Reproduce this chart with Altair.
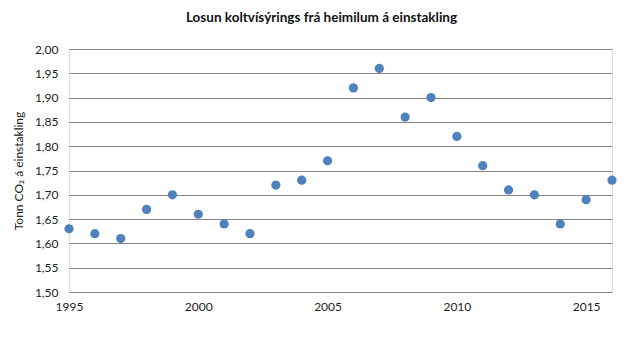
import altair as alt
import pandas as pd

years = list(range(1995, 2017))
values = [1.63, 1.62, 1.61, 1.67, 1.70, 1.66, 1.64, 1.62, 1.72, 1.73, 1.77,
          1.92, 1.96, 1.86, 1.90, 1.82, 1.76, 1.71, 1.70, 1.64, 1.69, 1.73]
y_ticks = [1.50, 1.55, 1.60, 1.65, 1.70, 1.75, 1.80, 1.85, 1.90, 1.95, 2.00]
x_ticks = [1995, 2000, 2005, 2010, 2015]

df = pd.DataFrame({"year": years, "value": values})

FONT = "Lato"

chart = alt.Chart(df).mark_circle(size=85, opacity=1, color="#4F81BD").encode(
    x=alt.X("year:Q",
            scale=alt.Scale(domain=[1995, 2016], nice=False, zero=False),
            axis=alt.Axis(values=x_ticks, format="d", grid=False, domain=False,
                          ticks=False, labelPadding=9, labelFontSize=12,
                          labelColor="#222222", labelFont=FONT, title=None,
                          labelFlush=False)),
    y=alt.Y("value:Q",
            scale=alt.Scale(domain=[1.5, 2.0], nice=False, zero=False),
            axis=alt.Axis(values=y_ticks,
                          labelExpr="replace(format(datum.value, '.2f'), '.', ',')",
                          grid=True, gridColor="#868686", gridWidth=1,
                          domain=False, ticks=False, labelPadding=11,
                          labelFontSize=12, labelColor="#222222", labelFont=FONT,
                          title="Tonn CO₂ á einstakling", titleFont=FONT,
                          titleFontSize=12, titleFontWeight="normal",
                          titleColor="#222222", titlePadding=9)),
).properties(
    width=543,
    height=243,
    title=alt.TitleParams("Losun koltvísýrings frá heimilum á einstakling",
                          font=FONT, fontSize=13.5, fontWeight="bold",
                          color="#111111", anchor="middle", dx=-19, offset=19),
    autosize=alt.AutoSizeParams(type="none"),
    padding={"left": 69, "top": 49, "right": 30, "bottom": 48},
).configure_view(stroke=None).configure(background="white")

chart.save("out.html", embed_options={"renderer": "svg", "actions": False})
